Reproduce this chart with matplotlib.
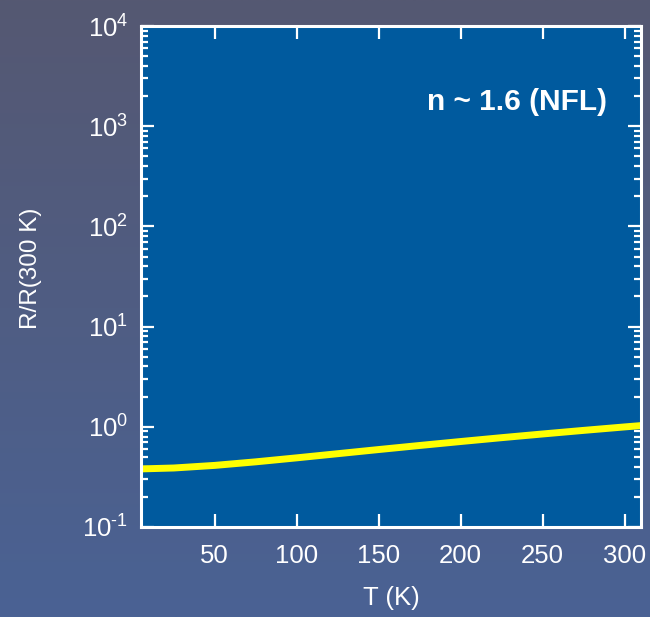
import numpy as np
import matplotlib
matplotlib.use("Agg")
import matplotlib.pyplot as plt
from matplotlib.colors import LinearSegmentedColormap
from matplotlib.ticker import LogLocator, FuncFormatter, FixedLocator, NullLocator

plt.rcParams['font.family'] = ['Liberation Sans', 'DejaVu Sans']
plt.rcParams['mathtext.fontset'] = 'custom'
plt.rcParams['mathtext.rm'] = 'Liberation Sans'
plt.rcParams['mathtext.it'] = 'Liberation Sans:italic'
plt.rcParams['mathtext.bf'] = 'Liberation Sans:bold'

# Data
T = [5, 25, 50, 75, 100, 125, 150, 175, 200, 225, 250, 275, 300, 310]
R_norm = [0.380, 0.388, 0.412, 0.447, 0.490, 0.539, 0.593, 0.651, 0.713, 0.779, 0.848, 0.921, 0.997, 1.028]
x_ticks = [50, 100, 150, 200, 250, 300]
annotation = "n ~ 1.6 (NFL)"

fig = plt.figure(figsize=(6.5, 6.17), dpi=100)

# gradient background
bg = fig.add_axes([0, 0, 1, 1], zorder=-10)
cmap = LinearSegmentedColormap.from_list("bg", ["#555872", "#4a6294"])
grad = np.linspace(0, 1, 256).reshape(-1, 1)
bg.imshow(grad, aspect='auto', cmap=cmap, extent=[0, 1, 0, 1], origin='upper')
bg.axis('off')

W, H = 650, 617
ax = fig.add_axes([141 / W, 1 - 527 / H, 500 / W, 501 / H])
ax.set_facecolor('#005a9e')
ax.plot(T, R_norm, color='#ffff00', lw=5, solid_capstyle='butt')
ax.set_yscale('log')
ax.set_xlim(5, 310)
ax.set_ylim(0.1, 1e4)

def fmt(v, pos):
    e = int(round(np.log10(v)))
    if e < 0:
        return r'$\mathdefault{10^{\text{-}%d}}$' % (-e)
    return r'$\mathdefault{10^{%d}}$' % e

ax.xaxis.set_major_locator(FixedLocator(x_ticks))
ax.xaxis.set_minor_locator(NullLocator())
ax.yaxis.set_major_locator(LogLocator(base=10, numticks=10))
ax.yaxis.set_minor_locator(LogLocator(base=10, subs=np.arange(2, 10), numticks=20))
ax.yaxis.set_major_formatter(FuncFormatter(fmt))

for s in ax.spines.values():
    s.set_color('white')
    s.set_linewidth(2.2)

ax.tick_params(which='both', direction='in', colors='white', top=True, right=True,
               labelsize=18.5, width=1.6)
ax.tick_params(which='major', length=9.5)
ax.tick_params(axis='x', which='major', pad=12)
ax.tick_params(axis='y', which='major', pad=9)
ax.tick_params(which='minor', length=5)

ax.set_xlabel('T (K)', color='white', fontsize=18.5)
ax.set_ylabel('R/R(300 K)', color='white', fontsize=17.5)
ax.xaxis.set_label_coords(0.5, -0.118)
ax.yaxis.set_label_coords(-0.198, 0.516)

ax.text(0.932, 0.848, annotation, transform=ax.transAxes, ha='right', va='center',
        color='white', fontsize=21.5, fontweight='bold')

fig.savefig('out.png', dpi=100)
